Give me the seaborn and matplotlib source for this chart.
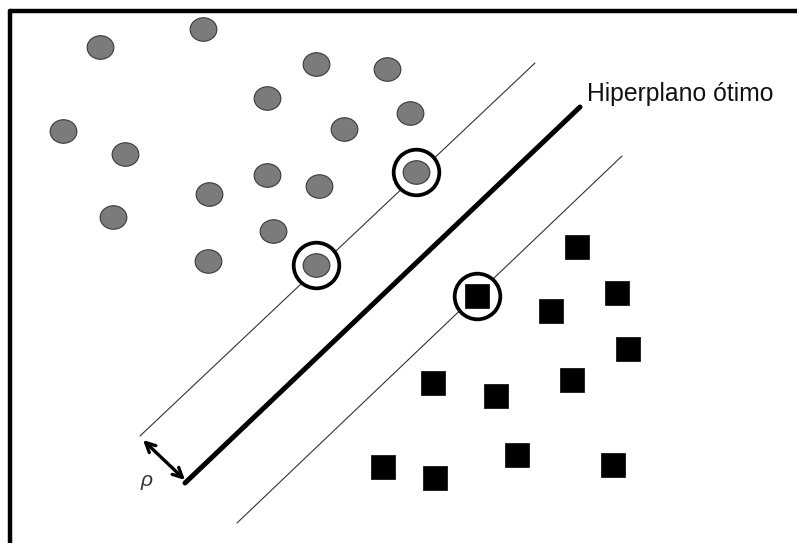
import matplotlib
matplotlib.use("Agg")
import matplotlib.pyplot as plt
import numpy as np
import seaborn as sns
from matplotlib.path import Path
from matplotlib.transforms import Affine2D

# class 1 (gray circles), picture coordinates (y grows downward)
circle_x = [100, 203, 316, 387, 267, 344, 63, 125, 267, 319, 209, 113, 273, 208, 316, 410, 416]
circle_y = [47, 29, 64, 69, 98, 129, 131, 154, 175, 186, 194, 217, 231, 261, 265, 113, 172]

# class 2 (black squares)
square_x = [577, 477, 551, 617, 628, 433, 496, 572, 517, 435, 613, 383]
square_y = [247, 296, 311, 293, 349, 383, 396, 380, 455, 478, 465, 467]

# support vectors (ringed)
sv_x = [316, 416, 477]
sv_y = [265, 172, 296]

# optimal hyperplane and margins
hyper_x = [185, 580]
hyper_y = [483, 107]
upper_x = [140, 535]
upper_y = [436, 63]
lower_x = [237, 622]
lower_y = [523, 156]

# margin arrow (rho)
rho_start = (185, 480)
rho_end = (143, 440)

label_text = "Hiperplano ótimo"

sns.set_style("white")
plt.rcParams['font.family'] = ['Liberation Sans', 'DejaVu Sans']

fig = plt.figure(figsize=(7.97, 5.43), dpi=100)
ax = fig.add_axes([0, 0, 1, 1])
ax.set_xlim(0, 797)
ax.set_ylim(543, 0)
ax.axis("off")

# frame (only top and left edges show)
ax.axhline(11, xmin=10 / 797, xmax=1, color="black", lw=3.2)
ax.axvline(10, ymin=0, ymax=1 - 11 / 543, color="black", lw=3.2)

# lines
sns.lineplot(x=upper_x, y=upper_y, ax=ax, color="#333333", lw=0.8, sort=False, estimator=None)
sns.lineplot(x=lower_x, y=lower_y, ax=ax, color="#333333", lw=0.8, sort=False, estimator=None)
sns.lineplot(x=hyper_x, y=hyper_y, ax=ax, color="black", lw=3.6, sort=False, estimator=None,
             solid_capstyle="round")

# gray elliptical points
ellipse = Path.unit_circle().transformed(Affine2D().scale(1.0, 0.88))
sns.scatterplot(x=circle_x, y=circle_y, ax=ax, marker=ellipse, s=370,
                color="#7b7b7b", edgecolor="#3a3a3a", linewidth=0.8, zorder=3)

# black squares
sns.scatterplot(x=square_x, y=square_y, ax=ax, marker="s", s=320,
                color="black", edgecolor="black", linewidth=0.5, zorder=3)

# rings around support vectors
ax.scatter(sv_x, sv_y, s=1080, facecolors="white", edgecolors="black",
           linewidths=2.7, zorder=2.5)

# rho arrow
ax.annotate("", xy=rho_end, xytext=rho_start,
            arrowprops=dict(arrowstyle="<->", lw=2.4, color="black",
                            mutation_scale=17, shrinkA=0, shrinkB=0))
ax.text(147, 481, "ρ", fontsize=15, style="italic", ha="center", va="center",
        color="#333333")

ax.text(587, 101, label_text, fontsize=17.8, ha="left", va="baseline", color="#111111")

fig.savefig("out.png", dpi=100, facecolor="white")
